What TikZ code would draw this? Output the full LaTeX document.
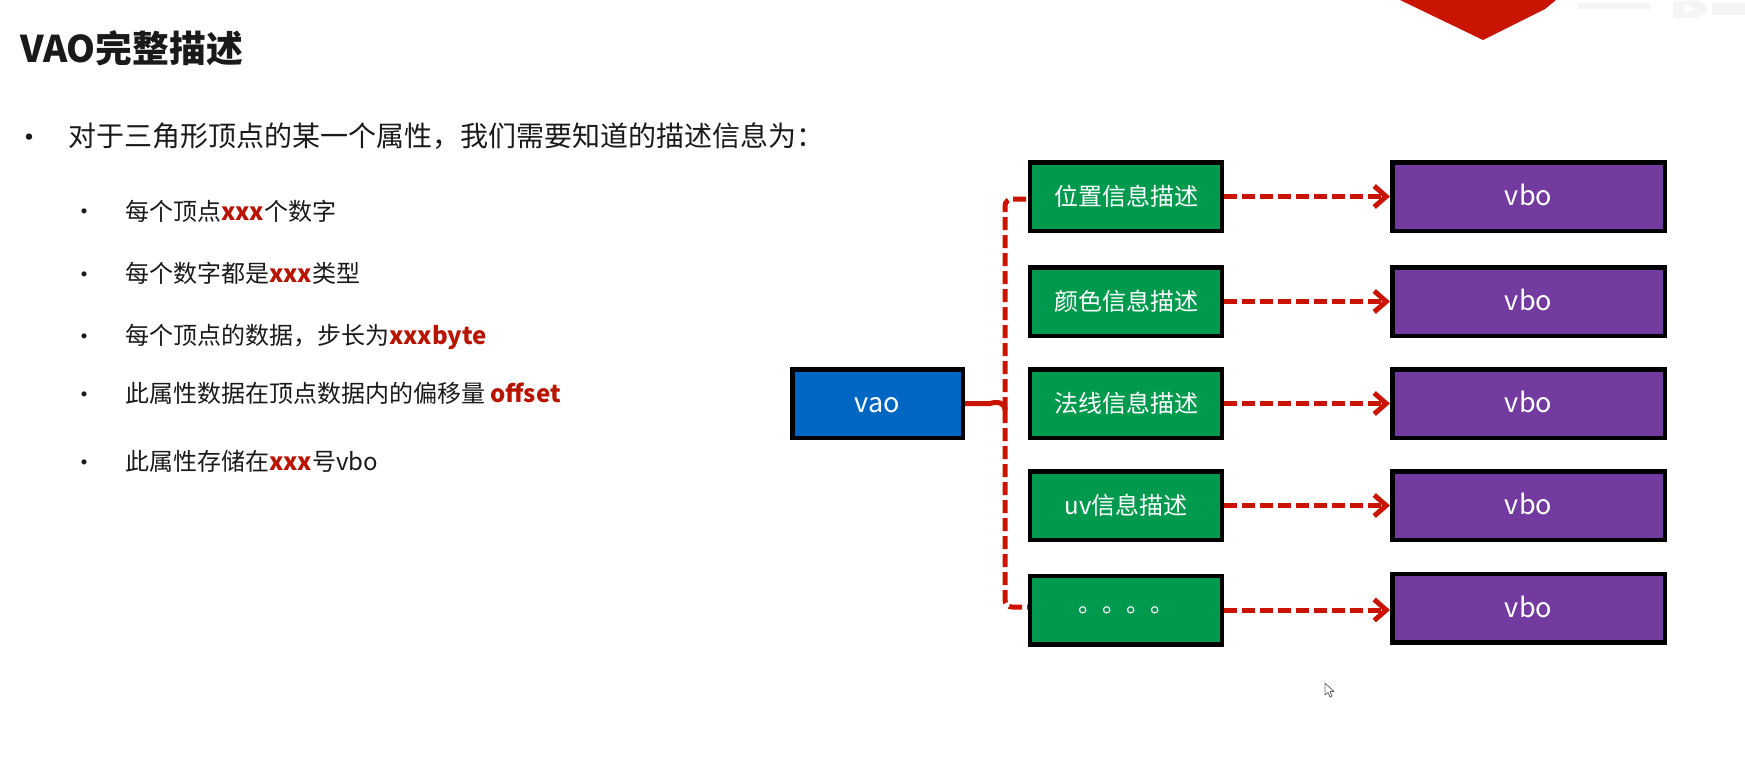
\documentclass[tikz,border=0pt]{standalone}
\usepackage{fontspec}
\setmainfont{Noto Sans CJK SC}
\usetikzlibrary{arrows.meta}
\definecolor{boxgreen}{HTML}{009A4E}
\definecolor{boxblue}{HTML}{0066C4}
\definecolor{boxpurple}{HTML}{733BA0}
\definecolor{linkred}{HTML}{C81400}
\definecolor{txtred}{HTML}{B81400}
\definecolor{txtblack}{HTML}{1A1A1A}
\definecolor{wmgrey}{HTML}{F5F5F5}
\newcommand{\fs}[1]{\fontsize{#1pt}{#1pt}\selectfont}
\newcommand{\hl}[1]{\textbf{\textcolor{txtred}{#1}}}
\tikzset{
  x=1pt,y=-1pt,
  box/.style={draw=black,line width=4.5pt,text=white,inner sep=0pt,font=\fs{24},minimum height=68.5pt},
  greenbox/.style={box,fill=boxgreen,minimum width=192pt},
  purplebox/.style={box,fill=boxpurple,minimum width=272.5pt,font=\fs{27},text height=18pt,text depth=0pt},
  bluebox/.style={box,fill=boxblue,minimum width=170.5pt,font=\fs{27},text height=18pt,text depth=0pt},
  link/.style={draw=linkred,line width=5pt,dash pattern=on 13pt off 5pt},
  arrowlink/.style={link,-{Straight Barb[length=12pt,width=21pt,line width=5pt]}},
  stub/.style={draw=linkred,line width=5pt},
  main/.style={anchor=west,inner sep=0pt,text=txtblack,font=\fs{28}},
  sub/.style={anchor=west,inner sep=0pt,text=txtblack,font=\fs{24}},
  dot/.style={anchor=center,inner sep=0pt,text=txtblack}
}
\begin{document}
\begin{tikzpicture}
\useasboundingbox (0,0) rectangle (1745,757);
\fill[white] (0,0) rectangle (1745,757);
% banner corner
\fill[linkred] (1400,0) -- (1483,40) -- (1545,9) -- (1556,0) -- cycle;
% faint marks of the corner
\fill[wmgrey] (1673,1) -- (1695,1) .. controls (1712,2) and (1710,16) .. (1695,18) -- (1673,18) -- cycle;
\fill[white] (1684,4) -- (1696,9) -- (1684,14) -- cycle;
\fill[wmgrey] (1578,3) rectangle (1650,9);
\fill[wmgrey] (1712,3) rectangle (1745,15);
% heading
\node[anchor=west,inner sep=0pt,text=txtblack,font=\fs{36.8}\bfseries] (title) at (20,48) {VAO完整描述};
% main list
\node[dot,font=\fs{30}] (b0) at (29,141) {•};
\node[main] (t0) at (68,136) {对于三角形顶点的某一个属性，我们需要知道的描述信息为：};
\node[dot,font=\fs{24}] (b1) at (84,214.5) {•};
\node[sub] (t1) at (125,211) {每个顶点\hl{xxx}个数字};
\node[dot,font=\fs{24}] (b2) at (84,277.5) {•};
\node[sub] (t2) at (125,273) {每个数字都是\hl{xxx}类型};
\node[dot,font=\fs{24}] (b3) at (84,339.5) {•};
\node[sub] (t3) at (125,337) {每个顶点的数据，步长为\hl{xxxbyte}};
\node[dot,font=\fs{24}] (b4) at (84,397.5) {•};
\node[sub] (t4) at (125,393) {此属性数据在顶点数据内的偏移量 \hl{offset}};
\node[dot,font=\fs{24}] (b5) at (84,465.5) {•};
\node[sub] (t5) at (125,461) {此属性存储在\hl{xxx}号vbo};
% boxes
\node[bluebox] (vao) at (877.5,403.5) {vao};
\node[greenbox] (g1) at (1126,196.5) {位置信息描述};
\node[greenbox] (g2) at (1126,301.5) {颜色信息描述};
\node[greenbox] (g3) at (1126,403.5) {法线信息描述};
\node[greenbox] (g4) at (1126,505.5) {uv信息描述};
\node[greenbox] (g5) at (1126,610) {。。。。};
\node[purplebox] (v1) at (1528.5,196.5) {vbo};
\node[purplebox] (v2) at (1528.5,301.5) {vbo};
\node[purplebox] (v3) at (1528.5,403.5) {vbo};
\node[purplebox] (v4) at (1528.5,505.5) {vbo};
\node[purplebox] (v5) at (1528.5,608) {vbo};
% connectors
\coordinate (fork) at (1005,410);
\draw[stub] (vao.east) -- ([xshift=-15pt,yshift=6.5pt]fork) .. controls ([xshift=-7pt,yshift=9pt]fork) and ([yshift=7pt]fork) .. (fork);
\draw[link,rounded corners=7pt] (fork) |- ([yshift=-2.5pt]g1.west);
\draw[link,rounded corners=7pt] (fork) |- ([yshift=3pt]g5.west);
\draw[arrowlink] (g1.east) -- (v1.west);
\draw[arrowlink] (g2.east) -- (v2.west);
\draw[arrowlink] (g3.east) -- (v3.west);
\draw[arrowlink] (g4.east) -- (v4.west);
\draw[arrowlink] (g5.east) -- (g5.east -| v5.west);
% pointer
\draw[fill=white,draw=black!60,line width=0.8pt,line join=round]
  (1325,683) -- (1325,695) -- (1328,692.5) -- (1330,697) -- (1332,696) -- (1330,691.5) -- (1334,691.5) -- cycle;
\end{tikzpicture}
\end{document}
